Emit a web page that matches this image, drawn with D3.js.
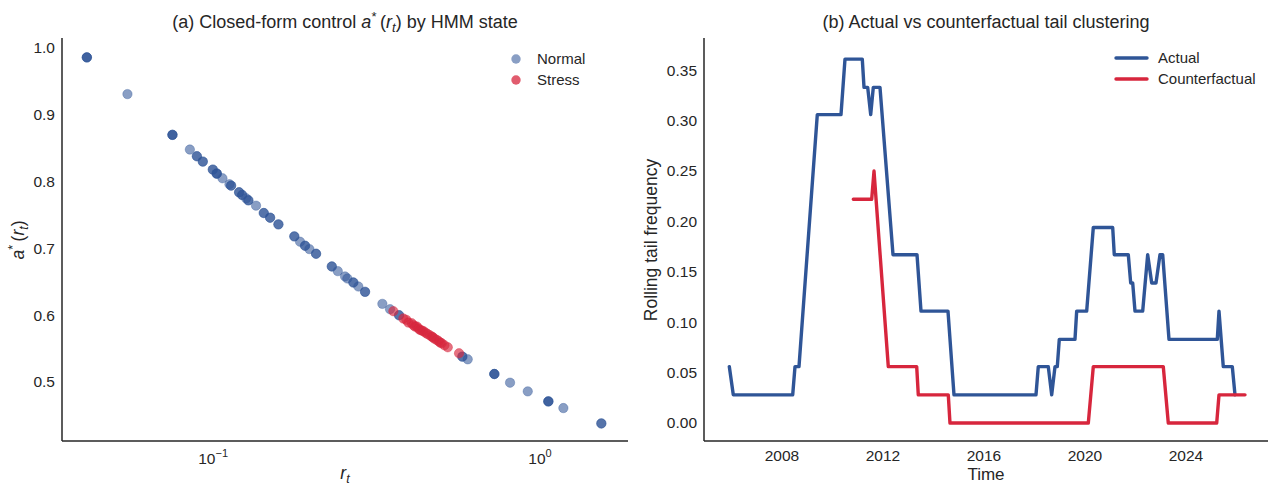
<!DOCTYPE html>
<html>
<head>
<meta charset="utf-8">
<script src="https://cdn.jsdelivr.net/npm/d3@7"></script>
<style>
  body { margin: 0; background: #fff; }
  text { font-family: "Liberation Sans", Arial, sans-serif; fill: #262626; }
</style>
</head>
<body>
<svg id="chart" width="1269" height="489"></svg>
<script>
// ---- panel (a): closed-form control vs r_t ----
const normalR = [0.0411, 0.0411, 0.0411, 0.0547, 0.0751, 0.0751, 0.0751, 0.0849, 0.0892, 0.0892,
  0.0930, 0.0930, 0.0998, 0.0998, 0.1026, 0.1026, 0.1026, 0.1068, 0.1122, 0.1135, 0.1135,
  0.1201, 0.1201, 0.1227, 0.1227, 0.1262, 0.1282, 0.1282, 0.1353, 0.1429, 0.1429, 0.1494, 0.1494,
  0.1584, 0.1584, 0.1772, 0.1772, 0.1845, 0.1911, 0.1911, 0.1970, 0.2065, 0.2065, 0.2307, 0.2307,
  0.2406, 0.2533, 0.2574, 0.2685, 0.2685, 0.2781, 0.2916, 0.2916, 0.3294, 0.3477, 0.3705, 0.3705,
  0.5786, 0.5786, 0.6009, 0.7248, 0.7248, 0.7248, 0.8096, 0.9171, 1.0603, 1.0603, 1.0603,
  1.1786, 1.5399, 1.5399];
const normalA = [0.986, 0.986, 0.986, 0.931, 0.870, 0.870, 0.870, 0.848, 0.838, 0.838,
  0.830, 0.830, 0.818, 0.818, 0.812, 0.812, 0.812, 0.805, 0.796, 0.794, 0.794,
  0.784, 0.784, 0.780, 0.780, 0.775, 0.772, 0.772, 0.764, 0.753, 0.753, 0.746, 0.746,
  0.736, 0.736, 0.718, 0.718, 0.710, 0.704, 0.704, 0.699, 0.692, 0.692, 0.673, 0.673,
  0.666, 0.658, 0.655, 0.649, 0.649, 0.643, 0.635, 0.635, 0.617, 0.609, 0.600, 0.600,
  0.538, 0.538, 0.534, 0.512, 0.512, 0.512, 0.499, 0.486, 0.471, 0.471, 0.471,
  0.461, 0.438, 0.438];
const stressR = [0.3559, 0.3819, 0.3900, 0.3957, 0.4050, 0.4100, 0.4147, 0.4200, 0.4250, 0.4296,
  0.4350, 0.4400, 0.4460, 0.4521, 0.4600, 0.4665, 0.4700, 0.4750, 0.4831, 0.4900, 0.4950,
  0.5004, 0.5100, 0.5221, 0.5653];
const stressA = [0.606, 0.595, 0.593, 0.589, 0.588, 0.585, 0.583, 0.583, 0.580, 0.578,
  0.577, 0.576, 0.574, 0.572, 0.570, 0.568, 0.567, 0.565, 0.563, 0.561, 0.559,
  0.558, 0.555, 0.552, 0.543];
const aTicks = [0.5, 0.6, 0.7, 0.8, 0.9, 1.0];
const rTicks = [0.1, 1];

// ---- panel (b): rolling tail frequency ----
const actualT = [2005.913, 2006.071, 2008.424, 2008.515, 2008.673, 2009.398, 2010.337, 2010.495,
  2011.180, 2011.248, 2011.394, 2011.513, 2011.616, 2011.881, 2012.396, 2013.347, 2013.505,
  2014.574, 2014.812, 2018.059, 2018.150, 2018.546, 2018.681, 2018.812, 2018.903, 2018.982,
  2019.604, 2019.671, 2020.067, 2020.329, 2021.097, 2021.160, 2021.715, 2021.810, 2021.889,
  2021.980, 2022.285, 2022.483, 2022.642, 2022.812, 2022.970, 2023.077, 2023.327, 2025.240,
  2025.307, 2025.477, 2025.834, 2025.941];
const actualV = [0.056, 0.028, 0.028, 0.056, 0.056, 0.306, 0.306, 0.361,
  0.361, 0.333, 0.333, 0.306, 0.333, 0.333, 0.167, 0.167, 0.111,
  0.111, 0.028, 0.028, 0.056, 0.056, 0.028, 0.056, 0.056, 0.083,
  0.083, 0.111, 0.111, 0.194, 0.194, 0.167, 0.167, 0.139, 0.139,
  0.111, 0.111, 0.167, 0.139, 0.139, 0.167, 0.167, 0.083, 0.083,
  0.111, 0.056, 0.056, 0.028];
const counterT = [2010.824, 2011.552, 2011.644, 2012.210, 2013.335, 2013.398, 2014.586, 2014.653,
  2020.131, 2020.329, 2023.101, 2023.299, 2025.216, 2025.307, 2026.337];
const counterV = [0.222, 0.222, 0.250, 0.056, 0.056, 0.028, 0.028, 0.000,
  0.000, 0.056, 0.056, 0.000, 0.000, 0.028, 0.028];
const freqTicks = [0.00, 0.05, 0.10, 0.15, 0.20, 0.25, 0.30, 0.35];
const yearTicks = [2008, 2012, 2016, 2020, 2024];

const BLUE = '#2f5597';
const RED = '#d7263d';
const svg = d3.select('#chart');

function spines(g, x0, x1, y0, y1) {
  g.append('line').attr('x1', x0).attr('x2', x0).attr('y1', y0).attr('y2', y1)
    .attr('stroke', '#262626').attr('stroke-width', 1.5);
  g.append('line').attr('x1', x0).attr('x2', x1).attr('y1', y1).attr('y2', y1)
    .attr('stroke', '#262626').attr('stroke-width', 1.5);
}

// ===== left panel =====
const L = { x0: 62, x1: 628, top: 38, bottom: 441 };
const xr = d3.scaleLog().domain([0.0345, 1.858]).range([L.x0, L.x1]);
const ya = d3.scaleLinear().domain([0.4117, 1.015]).range([L.bottom, L.top]);
const gl = svg.append('g');

gl.selectAll('.ytl').data(aTicks).enter().append('text')
  .attr('x', L.x0 - 7).attr('y', d => ya(d)).attr('dy', '0.35em')
  .attr('text-anchor', 'end').style('font-size', '15.5px').text(d => d.toFixed(1));

const xtl = gl.selectAll('.xtl').data(rTicks).enter().append('text')
  .attr('x', d => xr(d)).attr('y', 464).attr('text-anchor', 'middle').style('font-size', '15.5px');
xtl.append('tspan').text('10');
xtl.append('tspan').attr('dy', -7).style('font-size', '11px').text(d => d === 1 ? '0' : '\u22121');

const pts = normalR.map((r, i) => ({ r: r, a: normalA[i] }));
gl.selectAll('.pn').data(pts).enter().append('circle')
  .attr('cx', d => xr(d.r)).attr('cy', d => ya(d.a)).attr('r', 4.7)
  .attr('fill', BLUE).attr('fill-opacity', 0.57)
  .attr('stroke', BLUE).attr('stroke-opacity', 0.57).attr('stroke-width', 0.6);
const spts = stressR.map((r, i) => ({ r: r, a: stressA[i] }));
gl.selectAll('.ps').data(spts).enter().append('circle')
  .attr('cx', d => xr(d.r)).attr('cy', d => ya(d.a)).attr('r', 4.7)
  .attr('fill', RED).attr('fill-opacity', 0.65)
  .attr('stroke', RED).attr('stroke-opacity', 0.65).attr('stroke-width', 0.6);

spines(gl, L.x0, L.x1, L.top, L.bottom);

// title (a)
const ta = gl.append('text').attr('x', (L.x0 + L.x1) / 2).attr('y', 28)
  .attr('text-anchor', 'middle').style('font-size', '18px');
ta.append('tspan').text('(a) Closed-form control ');
ta.append('tspan').style('font-style', 'italic').text('a');
ta.append('tspan').attr('dy', -7).style('font-size', '13px').text('*');
ta.append('tspan').attr('dy', 7).text('\u2009(');
ta.append('tspan').style('font-style', 'italic').text('r');
ta.append('tspan').attr('dy', 4).style('font-size', '13px').style('font-style', 'italic').text('t');
ta.append('tspan').attr('dy', -4).text(') by HMM state');

// y label
const yl = gl.append('text').attr('transform', 'translate(24,240) rotate(-90)')
  .attr('text-anchor', 'middle').style('font-size', '17.5px');
yl.append('tspan').style('font-style', 'italic').text('a');
yl.append('tspan').attr('dy', -7).style('font-size', '12.5px').text('*');
yl.append('tspan').attr('dy', 7).text('\u2009(');
yl.append('tspan').style('font-style', 'italic').text('r');
yl.append('tspan').attr('dy', 4).style('font-size', '12.5px').style('font-style', 'italic').text('t');
yl.append('tspan').attr('dy', -4).text(')');

// x label
const xl = gl.append('text').attr('x', (L.x0 + L.x1) / 2).attr('y', 479)
  .attr('text-anchor', 'middle').style('font-size', '17.5px');
xl.append('tspan').style('font-style', 'italic').text('r');
xl.append('tspan').attr('dy', 3.5).style('font-size', '12.5px').style('font-style', 'italic').text('t');

// legend (a)
const legA = [{ name: 'Normal', c: BLUE, o: 0.57 }, { name: 'Stress', c: RED, o: 0.75 }];
legA.forEach((d, i) => {
  gl.append('circle').attr('cx', 516).attr('cy', 59 + i * 21).attr('r', 4.7)
    .attr('fill', d.c).attr('fill-opacity', d.o);
  gl.append('text').attr('x', 537).attr('y', 59 + i * 21).attr('dy', '0.35em')
    .style('font-size', '15px').text(d.name);
});

// ===== right panel =====
const R = { x0: 704, x1: 1268, top: 38, bottom: 441 };
const xt = d3.scaleLinear().domain([2004.911, 2027.248]).range([R.x0, R.x1]);
const yf = d3.scaleLinear().domain([-0.0178, 0.382]).range([R.bottom, R.top]);
const gr = svg.append('g');

gr.selectAll('.ytr').data(freqTicks).enter().append('text')
  .attr('x', R.x0 - 7).attr('y', d => yf(d)).attr('dy', '0.35em')
  .attr('text-anchor', 'end').style('font-size', '15.5px').text(d => d.toFixed(2));
gr.selectAll('.xtr').data(yearTicks).enter().append('text')
  .attr('x', d => xt(d)).attr('y', 461).attr('text-anchor', 'middle')
  .style('font-size', '15.5px').text(d => d);

const line = d3.line().x(d => xt(d[0])).y(d => yf(d[1]));
gr.append('path').datum(actualT.map((t, i) => [t, actualV[i]])).attr('d', line)
  .attr('fill', 'none').attr('stroke', BLUE).attr('stroke-width', 3.4)
  .attr('stroke-linejoin', 'round').attr('stroke-linecap', 'round');
gr.append('path').datum(counterT.map((t, i) => [t, counterV[i]])).attr('d', line)
  .attr('fill', 'none').attr('stroke', RED).attr('stroke-width', 3.4)
  .attr('stroke-linejoin', 'round').attr('stroke-linecap', 'round');

spines(gr, R.x0, R.x1, R.top, R.bottom);

gr.append('text').attr('x', (R.x0 + R.x1) / 2).attr('y', 28).attr('text-anchor', 'middle')
  .style('font-size', '18px').text('(b) Actual vs counterfactual tail clustering');
gr.append('text').attr('x', (R.x0 + R.x1) / 2).attr('y', 480).attr('text-anchor', 'middle')
  .style('font-size', '17px').text('Time');
gr.append('text').attr('transform', 'translate(657,240) rotate(-90)').attr('text-anchor', 'middle')
  .style('font-size', '17.5px').text('Rolling tail frequency');

const legB = [{ name: 'Actual', c: BLUE }, { name: 'Counterfactual', c: RED }];
legB.forEach((d, i) => {
  gr.append('line').attr('x1', 1116).attr('x2', 1147).attr('y1', 58 + i * 21).attr('y2', 58 + i * 21)
    .attr('stroke', d.c).attr('stroke-width', 3.4).attr('stroke-linecap', 'round');
  gr.append('text').attr('x', 1158).attr('y', 58 + i * 21).attr('dy', '0.35em')
    .style('font-size', '15px').text(d.name);
});
</script>
</body>
</html>
